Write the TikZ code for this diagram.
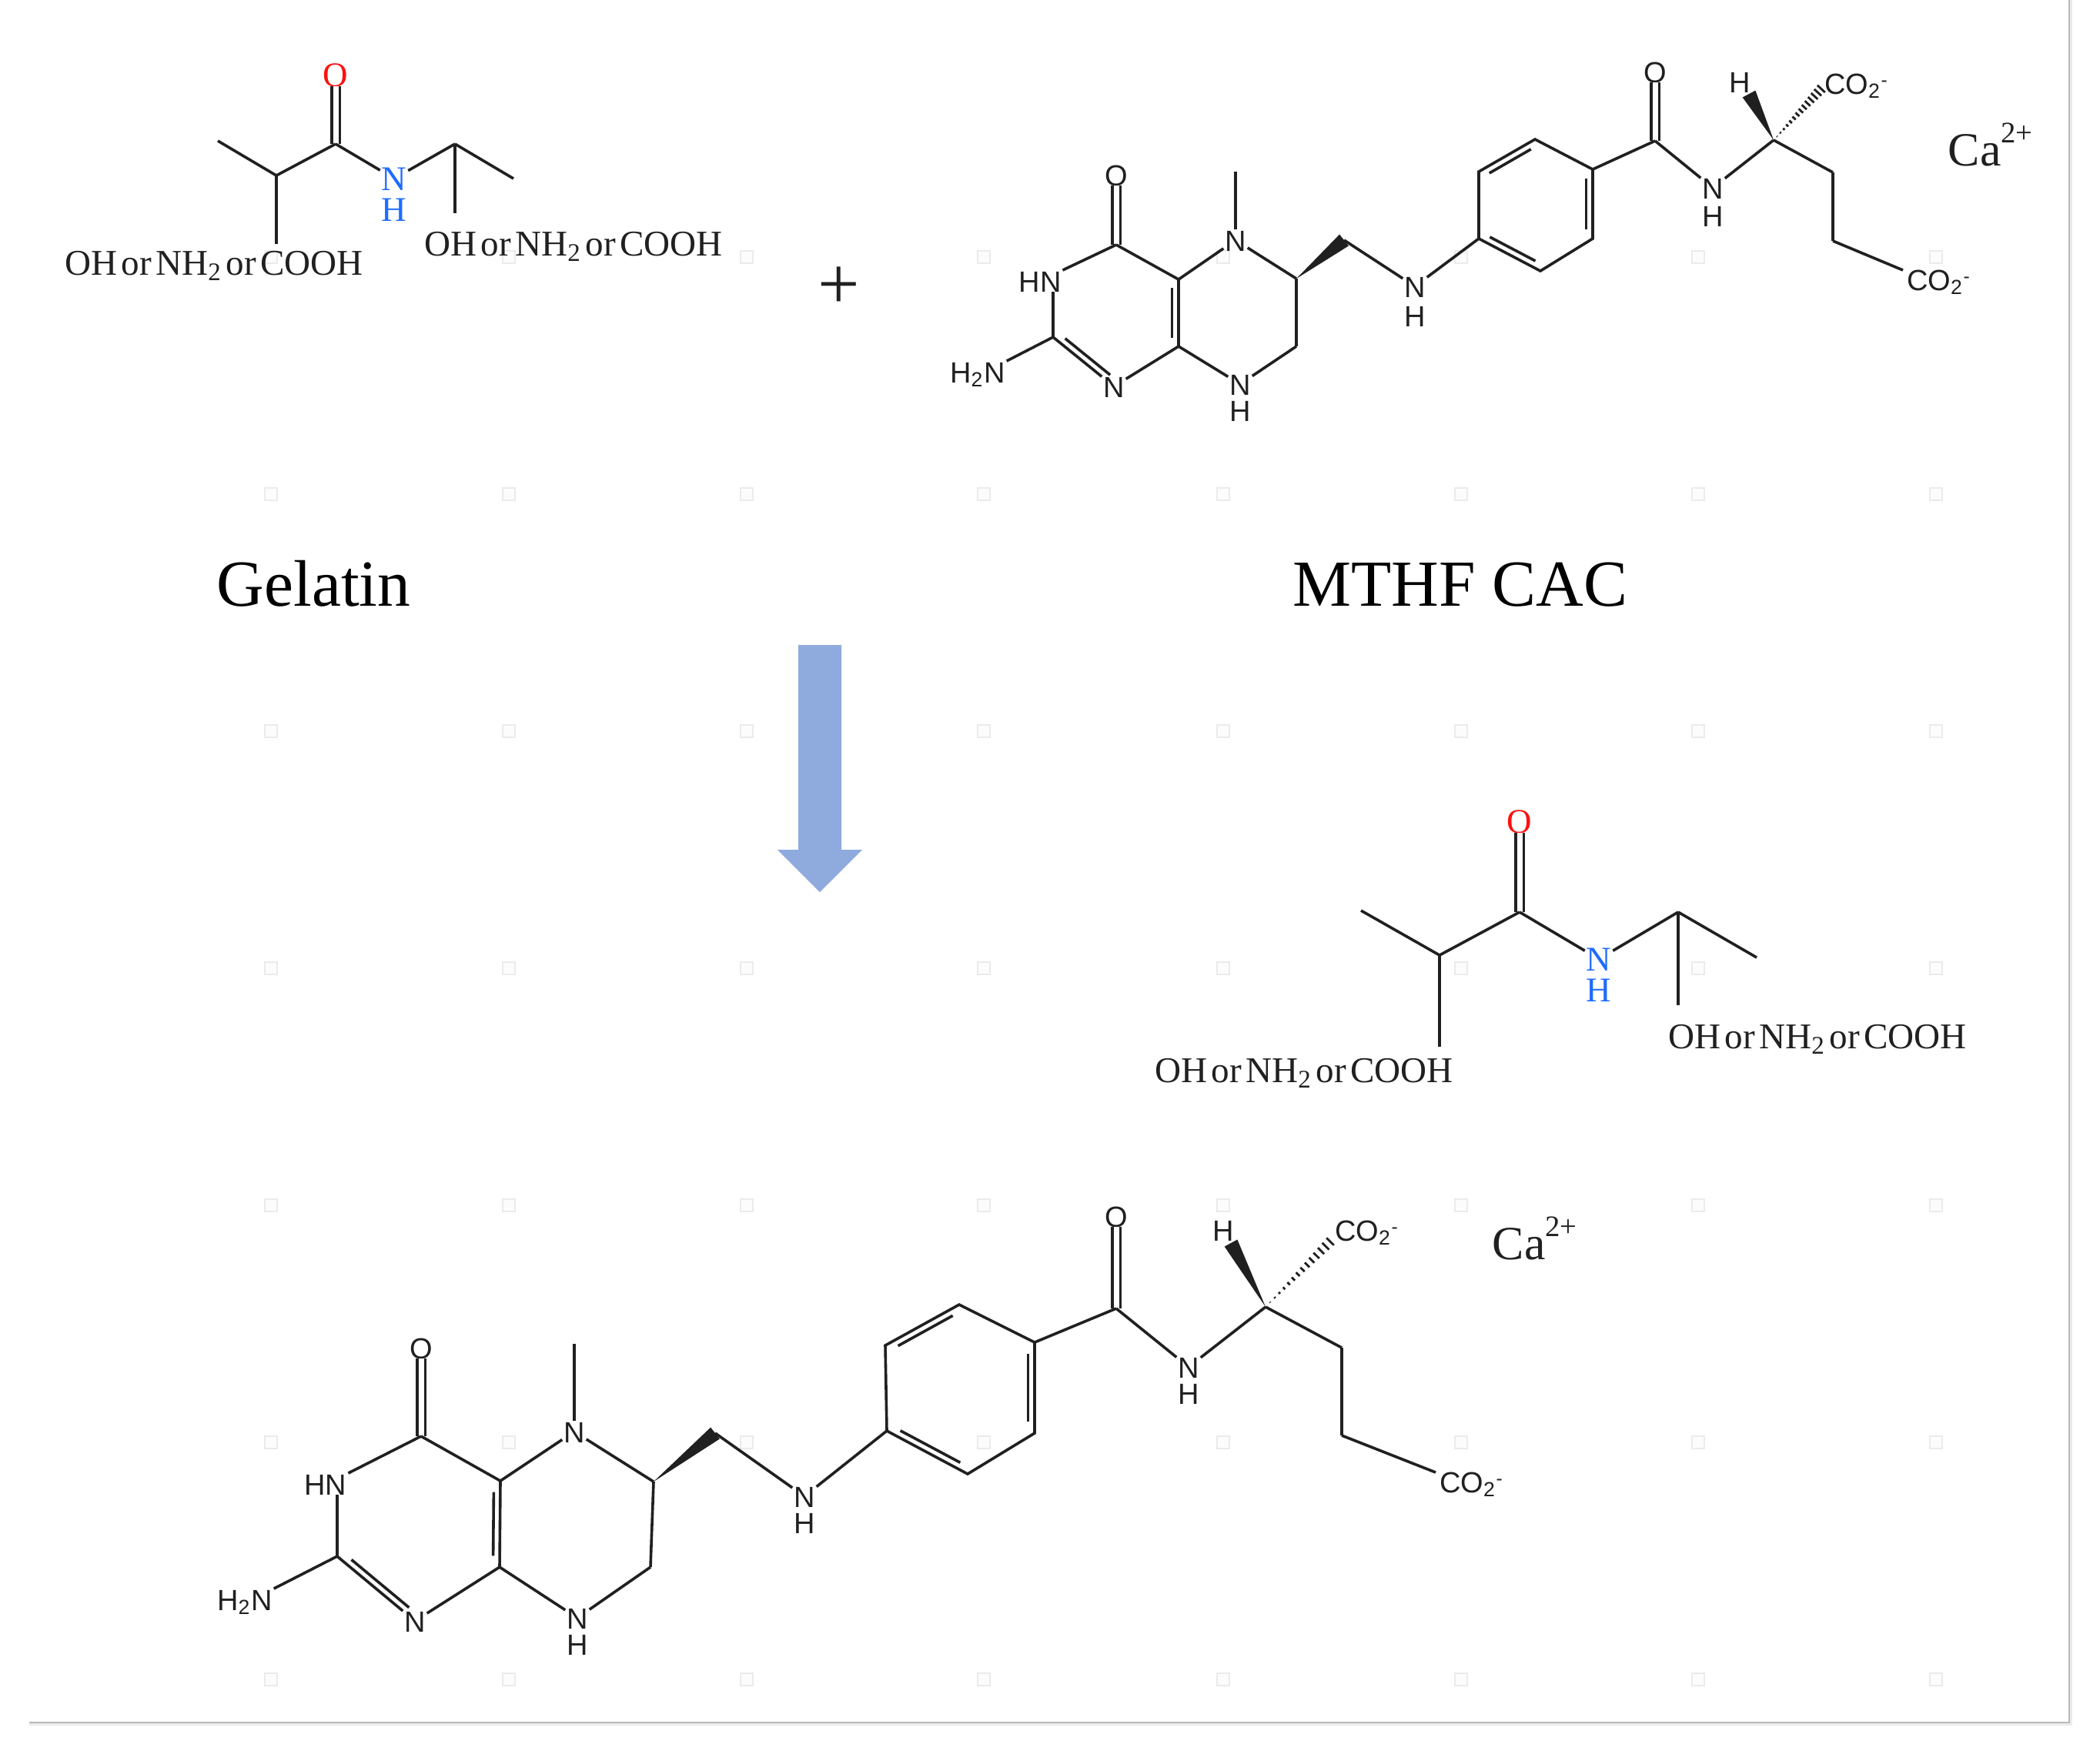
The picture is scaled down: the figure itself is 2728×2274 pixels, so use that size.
\documentclass[tikz,border=0pt]{standalone}
\usepackage{fontspec}
\usepackage{graphicx}
\setmainfont{Liberation Serif}
\newfontfamily\chemfont{Liberation Sans}
\usetikzlibrary{calc}
\definecolor{bondcol}{HTML}{202020}
\definecolor{arrowcol}{HTML}{8FAADC}
\definecolor{oxred}{HTML}{FF1010}
\definecolor{nblue}{HTML}{1F6BFF}
\tikzset{
  bond/.style={draw=bondcol,line width=0.036cm},
  dblbond/.style={draw=bondcol,line width=0.033cm,double=white,double distance=0.07cm},
  atom/.style={font=\chemfont\fontsize{10.8}{11}\selectfont,text=bondcol,inner xsep=0.02cm,inner ysep=0pt,outer sep=0pt,text height=0.28cm,text depth=0pt},
  co2lab/.style={font=\chemfont\fontsize{10.8}{11}\selectfont,text=bondcol,anchor=west,inner sep=0pt,outer sep=0.05cm,text height=0.28cm,text depth=0pt},
  satom/.style={font=\fontsize{12.8}{13}\selectfont,inner xsep=0.02cm,inner ysep=0pt,outer sep=0pt,text height=0.30cm,text depth=0pt},
  oatom/.style={satom,text=oxred},
  natom/.style={satom,text=nblue},
  sublab/.style={font=\fontsize{13.4}{14}\selectfont,text=bondcol,anchor=base west,inner sep=0pt},
  titlelab/.style={font=\fontsize{24.3}{26}\selectfont,text=black,anchor=base west,inner sep=0pt},
  calab/.style={font=\fontsize{17.6}{18}\selectfont,text=bondcol,anchor=base west,inner sep=0pt},
  gridmark/.style={draw=black!8,fill=black!1,line width=0.012cm},
}
\newcommand\inbond[4]{\draw[bond] ($(#1)!.13!(#2)!.085cm!#3:(#2)$) -- ($(#2)!.13!(#1)!.085cm!#4:(#1)$);}
\newcommand\wedgebond[2]{\fill[bondcol] (#1) -- ($(#2)!.095cm!90:(#1)$) -- ($(#2)!.095cm!-90:(#1)$) -- cycle;}
\newcommand\hashbond[2]{\foreach \hb in {1,...,14}{%
  \pgfmathsetmacro\hf{\hb/14.5}%
  \pgfmathsetlengthmacro\hw{0.07cm*\hf}%
  \draw[bondcol,line width=0.028cm] ($(#1)!\hf!(#2)!\hw!90:(#2)$) -- ($(#1)!\hf!(#2)!\hw!-90:(#2)$);}}
\newcommand\substtext{\spaceskip=.11em\relax OH or NH\textsubscript{2} or COOH}
\newcommand\calabel{Ca\raisebox{.30cm}{\fontsize{11}{11}\selectfont 2+}}
\newcommand\cotwo{CO\textsubscript{2}\raisebox{.1cm}{\fontsize{7}{7}\selectfont -}}
% bonds of the folate molecule; #1 is the prefix of its names
\newcommand\folatebonds[1]{%
  \draw[dblbond] (#1Cfour) -- (#1Ofour);
  \draw[dblbond] (#1Cco) -- (#1Oco);
  \draw[bond] (#1Cfour) -- (#1HN.north east);
  \draw[bond] (#1Ctwo) -- (#1HN.south -| #1Ctwo);
  \draw[bond] (#1Ctwo) -- (#1Hamine.north east);
  \draw[bond] (#1Ctwo) -- (#1Nthree);
  \inbond{#1Ctwo}{#1Nthree}{90}{-90}
  \draw[bond] (#1Nthree) -- (#1Ceight);
  \draw[bond] (#1Ceight) -- (#1Cfa);
  \inbond{#1Cfa}{#1Ceight}{-90}{90}
  \draw[bond] (#1Cfa) -- (#1Cfour);
  \draw[bond] (#1Cfa) -- (#1Nfive);
  \draw[bond] (#1Nfive) -- (#1Me);
  \draw[bond] (#1Nfive) -- (#1Csix);
  \draw[bond] (#1Csix) -- (#1Cseven);
  \draw[bond] (#1Cseven) -- (#1Neight);
  \draw[bond] (#1Neight) -- (#1Ceight);
  \wedgebond{#1Csix}{#1Cme}
  \draw[bond] (#1Cme) -- (#1Nlink);
  \draw[bond] (#1Nlink) -- (#1Rll);
  \draw[bond] (#1Rll) -- (#1Rb) -- (#1Rlr) -- (#1Rur) -- (#1Rt) -- (#1Rul) -- (#1Rll);
  \inbond{#1Rll}{#1Rb}{90}{-90}
  \inbond{#1Rur}{#1Rlr}{-90}{90}
  \inbond{#1Rul}{#1Rt}{-90}{90}
  \draw[bond] (#1Rur) -- (#1Cco);
  \draw[bond] (#1Cco) -- (#1Namide);
  \draw[bond] (#1Namide) -- (#1Ca);
  \wedgebond{#1Ca}{#1Hw}
  \hashbond{#1Ca}{#1Hs}
  \draw[bond] (#1Ca) -- (#1Cb);
  \draw[bond] (#1Cb) -- (#1Cg);
  \draw[bond] (#1Cg) -- ([yshift=.12cm]#1COb.west);
}
% bonds of the gelatin fragment
\newcommand\gelbonds[1]{%
  \draw[dblbond] (#1Cc) -- (#1O);
  \draw[bond] (#1Cm) -- (#1Cl);
  \draw[bond] (#1Cl) -- (#1Cc);
  \draw[bond] (#1Cl) -- (#1Dl);
  \draw[bond] (#1Cc) -- (#1N);
  \draw[bond] (#1N) -- (#1Cr);
  \draw[bond] (#1Cr) -- (#1Er);
  \draw[bond] (#1Cr) -- (#1Dr);
}
\begin{document}
\begin{tikzpicture}[x=0.01cm,y=-0.01cm]
\useasboundingbox (0,0) rectangle (2728,2274);
\fill[white] (0,0) rectangle (2728,2274);
% faint page marks
\foreach \gx in {352,661,970,1278,1589,1898,2206,2515}
  \foreach \gy in {334,642,950,1258,1566,1874,2182}
    \filldraw[gridmark] (\gx-8,\gy-8) rectangle (\gx+8,\gy+8);
% frame lines
\fill[black!8] (38,2238) rectangle (2692,2242);
\fill[black!8] (2688,0) rectangle (2692,2242);
\draw[black!28,line width=0.02cm] (38,2238) -- (2688,2238) -- (2688,0);

% ---------- gelatin, top left
\coordinate (aCm) at (283,183);
\coordinate (aCl) at (359,228);
\coordinate (aCc) at (436,187);
\coordinate (aCr) at (591,187);
\coordinate (aEr) at (667,232);
\coordinate (aDr) at (591,277);
\coordinate (aDl) at (359,317);
\node[oatom] (aO) at (436,97) {O};
\node[natom] (aN) at (512,232) {N};
\node[natom] (aH) at (512,272) {H};
\gelbonds{a}
\node[sublab] (aTl) at (84,357) {\substtext};
\node[sublab] (aTr) at (551,332) {\substtext};
\node[font=\fontsize{27.5}{28}\selectfont,text=bondcol,inner sep=0pt] (plus) at (1090,374) {+};

% ---------- MTHF CAC, top right
\node[atom] (bOfour) at (1450,227) {O};
\coordinate (bCfour) at (1450,318);
\node[atom] (bHN) at (1351,365) {HN};
\coordinate (bCtwo) at (1368,438);
\node[atom] (bHamine) at (1270,483) {H\textsubscript{2}N};
\node[atom] (bNthree) at (1447,502) {N};
\coordinate (bCeight) at (1531,450);
\coordinate (bCfa) at (1531,363);
\node[atom] (bNfive) at (1605,312) {N};
\coordinate (bMe) at (1605,223);
\coordinate (bCsix) at (1684,362);
\coordinate (bCme) at (1746,312);
\node[atom] (bNlink) at (1838,372) {N};
\node[atom] (bHlink) at (1838,410) {H};
\coordinate (bCseven) at (1684,450);
\node[atom] (bNeight) at (1611,499) {N};
\node[atom] (bHeight) at (1611,533) {H};
\coordinate (bRll) at (1921,310);
\coordinate (bRb) at (2001,352);
\coordinate (bRlr) at (2069,310);
\coordinate (bRur) at (2069,220);
\coordinate (bRt) at (1994,181);
\coordinate (bRul) at (1921,223);
\coordinate (bCco) at (2150,183);
\node[atom] (bOco) at (2150,93) {O};
\node[atom] (bNamide) at (2225,244) {N};
\node[atom] (bHamide) at (2225,280) {H};
\coordinate (bCa) at (2304,182);
\node[atom] (bHtop) at (2260,106) {H};
\coordinate (bHw) at (2272,122);
\coordinate (bHs) at (2368,113);
\node[co2lab] (bCOa) at (2365,108) {\cotwo};
\coordinate (bCb) at (2381,224);
\coordinate (bCg) at (2381,313);
\node[co2lab] (bCOb) at (2472,363) {\cotwo};
\folatebonds{b}
\node[calab] (bCalc) at (2530,215) {\calabel};

% ---------- titles
\node[titlelab] (tGel) at (281,787) {Gelatin};
\node[titlelab] (tMth) at (1679,787) {MTHF CAC};

% ---------- reaction arrow
\coordinate (arTip) at (1065,1159);
\fill[arrowcol] (1037,838) -- (1093,838) -- (1093,1104) -- (1120,1104) -- (arTip) -- (1010,1104) -- (1037,1104) -- cycle;

% ---------- gelatin, middle right
\coordinate (cCm) at (1768,1183);
\coordinate (cCl) at (1870,1241);
\coordinate (cCc) at (1974,1185);
\coordinate (cCr) at (2180,1185);
\coordinate (cEr) at (2282,1244);
\coordinate (cDr) at (2180,1306);
\coordinate (cDl) at (1870,1360);
\node[oatom] (cO) at (1974,1067) {O};
\node[natom] (cN) at (2077,1246) {N};
\node[natom] (cH) at (2077,1286) {H};
\gelbonds{c}
\node[sublab] (cTl) at (1500,1406) {\substtext};
\node[sublab] (cTr) at (2167,1362) {\substtext};

% ---------- MTHF CAC, bottom
\node[atom] (dOfour) at (547,1751) {O};
\coordinate (dCfour) at (547,1866);
\node[atom] (dHN) at (423,1928) {HN};
\coordinate (dCtwo) at (438,2022);
\node[atom] (dHamine) at (318,2078) {H\textsubscript{2}N};
\node[atom] (dNthree) at (539,2106) {N};
\coordinate (dCeight) at (649,2036);
\coordinate (dCfa) at (650,1924);
\node[atom] (dNfive) at (746,1860) {N};
\coordinate (dMe) at (746,1746);
\coordinate (dCsix) at (849,1925);
\coordinate (dCme) at (929,1862);
\node[atom] (dNlink) at (1045,1944) {N};
\node[atom] (dHlink) at (1045,1978) {H};
\coordinate (dCseven) at (845,2036);
\node[atom] (dNeight) at (750,2102) {N};
\node[atom] (dHeight) at (750,2136) {H};
\coordinate (dRll) at (1152,1859);
\coordinate (dRb) at (1257,1915);
\coordinate (dRlr) at (1344,1862);
\coordinate (dRur) at (1344,1744);
\coordinate (dRt) at (1246,1695);
\coordinate (dRul) at (1150,1748);
\coordinate (dCco) at (1450,1700);
\node[atom] (dOco) at (1450,1580) {O};
\node[atom] (dNamide) at (1544,1776) {N};
\node[atom] (dHamide) at (1544,1810) {H};
\coordinate (dCa) at (1644,1698);
\node[atom] (dHtop) at (1589,1598) {H};
\coordinate (dHw) at (1599,1615);
\coordinate (dHs) at (1731,1610);
\node[co2lab] (dCOa) at (1729,1598) {\cotwo};
\coordinate (dCb) at (1743,1751);
\coordinate (dCg) at (1743,1865);
\node[co2lab] (dCOb) at (1865,1925) {\cotwo};
\folatebonds{d}
\node[calab] (dCalc) at (1938,1636) {\calabel};
\end{tikzpicture}
\end{document}
